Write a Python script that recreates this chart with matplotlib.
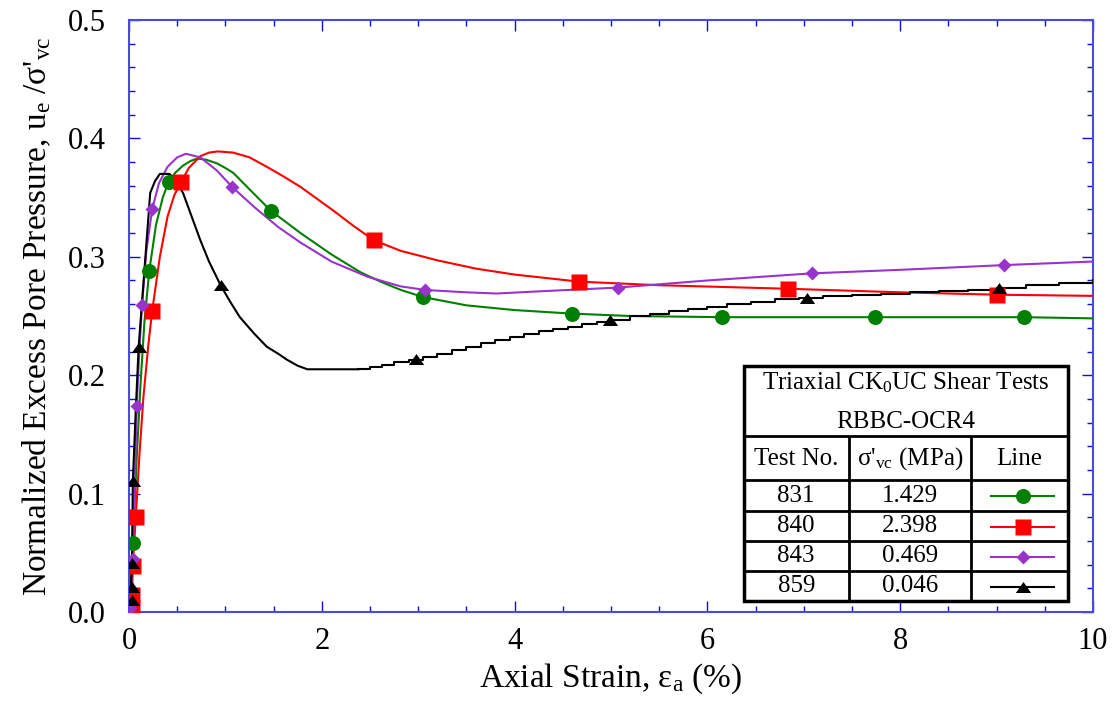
import matplotlib
matplotlib.use("Agg")
import matplotlib.pyplot as plt
from matplotlib.ticker import MultipleLocator, FormatStrFormatter
from matplotlib.patches import Rectangle

plt.rcParams["font.family"] = ["Liberation Serif", "DejaVu Serif"]
plt.rcParams["mathtext.fontset"] = "custom"
plt.rcParams["mathtext.rm"] = "Liberation Serif"
plt.rcParams["mathtext.it"] = "Liberation Serif:italic"
plt.rcParams["mathtext.bf"] = "Liberation Serif:bold"

# ---------------- test 831 (green, circles) ----------------
x831 = [0, 0.02, 0.04, 0.08, 0.12, 0.16, 0.21, 0.28, 0.35, 0.41, 0.48, 0.56, 0.64, 0.71,
        0.8, 0.91, 1.0, 1.08, 1.25, 1.47, 1.78, 2.1, 2.4, 2.61, 2.82, 3.05, 3.5, 4.0, 4.6,
        5.2, 6.15, 7.0, 7.74, 8.5, 9.28, 10.0]
y831 = [0, 0.028, 0.058, 0.13, 0.193, 0.245, 0.288, 0.327, 0.350, 0.363, 0.371, 0.377, 0.381, 0.383,
        0.382, 0.379, 0.375, 0.371, 0.357, 0.339, 0.320, 0.302, 0.287, 0.279, 0.272, 0.266, 0.259, 0.255, 0.252,
        0.250, 0.249, 0.249, 0.249, 0.249, 0.249, 0.248]
mx831 = [0.04, 0.21, 0.41, 1.47, 3.05, 4.6, 6.15, 7.74, 9.28]
my831 = [0.058, 0.288, 0.363, 0.339, 0.266, 0.252, 0.249, 0.249, 0.249]

# ---------------- test 840 (red, squares) ----------------
x840 = [0, 0.03, 0.04, 0.07, 0.11, 0.15, 0.20, 0.24, 0.32, 0.40, 0.47, 0.54, 0.62, 0.74,
        0.83, 0.92, 1.08, 1.25, 1.43, 1.6, 1.78, 1.95, 2.12, 2.33, 2.54, 2.82, 3.2, 3.6, 4.0, 4.67,
        5.5, 6.84, 8.0, 9.0, 10.0]
y840 = [0, 0.010, 0.039, 0.080, 0.135, 0.182, 0.225, 0.254, 0.300, 0.334, 0.352, 0.363, 0.375, 0.385,
        0.388, 0.389, 0.388, 0.384, 0.376, 0.368, 0.359, 0.349, 0.339, 0.326, 0.314, 0.305, 0.297, 0.290, 0.285, 0.279,
        0.276, 0.273, 0.270, 0.268, 0.267]
mx840 = [0.03, 0.03, 0.04, 0.07, 0.24, 0.54, 2.54, 4.67, 6.84, 9.0]
my840 = [0.003, 0.014, 0.039, 0.080, 0.254, 0.363, 0.314, 0.279, 0.273, 0.268]

# ---------------- test 843 (purple, diamonds) ----------------
x843 = [0, 0.01, 0.04, 0.06, 0.08, 0.11, 0.135, 0.18, 0.24, 0.31, 0.40, 0.50, 0.59, 0.74,
        0.91, 1.07, 1.3, 1.55, 1.78, 2.1, 2.48, 2.82, 3.07, 3.5, 3.81, 4.3, 5.07, 6.0,
        7.08, 8.0, 9.08, 10.0]
y843 = [0, 0.003, 0.045, 0.11, 0.174, 0.225, 0.259, 0.305, 0.340, 0.362, 0.376, 0.384, 0.387, 0.384,
        0.373, 0.359, 0.342, 0.325, 0.312, 0.296, 0.283, 0.275, 0.272, 0.270, 0.269, 0.271, 0.274, 0.280,
        0.286, 0.289, 0.293, 0.296]
mx843 = [0.01, 0.04, 0.08, 0.135, 0.24, 1.07, 3.07, 5.07, 7.08, 9.08]
my843 = [0.003, 0.045, 0.174, 0.259, 0.340, 0.359, 0.272, 0.274, 0.286, 0.293]

# ---------------- test 859 (black, triangles) ----------------
x859 = [0, 0.02, 0.03, 0.04, 0.07, 0.10, 0.15, 0.22, 0.27, 0.32, 0.42, 0.47, 0.56, 0.65,
        0.74, 0.83, 0.95, 1.05, 1.15, 1.3, 1.43, 1.55, 1.64, 1.75, 1.85, 2.38]
y859 = [0, 0.020, 0.041, 0.111, 0.170, 0.224, 0.278, 0.354, 0.364, 0.370, 0.370, 0.366, 0.354, 0.334,
        0.314, 0.296, 0.276, 0.262, 0.249, 0.235, 0.224, 0.218, 0.213, 0.208, 0.205, 0.205]
# quantised readings at larger strains (drawn as a staircase)
xs859 = [2.38, 2.5, 2.62, 2.75, 2.9, 3.05, 3.2, 3.35, 3.5, 3.65, 3.8, 3.95, 4.1, 4.25, 4.4,
         4.55, 4.7, 4.85, 5.0, 5.2, 5.4, 5.6, 5.8, 6.0, 6.2, 6.45, 6.7, 6.95, 7.2, 7.5,
         7.8, 8.1, 8.4, 8.7, 9.0, 9.3, 9.65, 10.0]
ys859 = [0.205, 0.207, 0.209, 0.211, 0.213, 0.215, 0.218, 0.221, 0.224, 0.227, 0.230, 0.232, 0.235, 0.237, 0.239,
         0.241, 0.243, 0.245, 0.247, 0.250, 0.252, 0.254, 0.256, 0.258, 0.260, 0.262, 0.264, 0.265, 0.267, 0.268,
         0.269, 0.270, 0.271, 0.272, 0.274, 0.276, 0.278, 0.280]
mx859 = [0.03, 0.03, 0.03, 0.04, 0.10, 0.95, 2.98, 4.99, 7.03, 9.03]
my859 = [0.010, 0.021, 0.041, 0.111, 0.224, 0.276, 0.214, 0.247, 0.265, 0.274]

# legend table contents
tests = ["831", "840", "843", "859"]
stresses = ["1.429", "2.398", "0.469", "0.046"]

c_green = "#008000"
c_red = "#ff0000"
c_purple = "#9933cc"
c_black = "#000000"
tri = [(0, 0.72), (-1, -0.72), (1, -0.72)]

fig = plt.figure(figsize=(11.14, 7.13), dpi=100)
ax = fig.add_axes([129 / 1114, 1 - 612 / 713, (1093 - 129) / 1114, (612 - 20) / 713])

lw = 1.5
ax.plot(x831, y831, color=c_green, lw=lw, zorder=3)
ax.plot(x840, y840, color=c_red, lw=lw, zorder=3)
ax.plot(x843, y843, color=c_purple, lw=lw, zorder=3)
ax.plot(x859, y859, color=c_black, lw=lw, zorder=3)
ax.plot(xs859, ys859, color=c_black, lw=lw, drawstyle="steps-post", zorder=3)

ax.plot(mx831, my831, ls="none", marker="o", ms=10.8, color=c_green, mec="none", zorder=4)
ax.plot(mx840, my840, ls="none", marker="s", ms=11.0, color=c_red, mec="none", zorder=4)
ax.plot(mx843, my843, ls="none", marker="D", ms=7.5, color=c_purple, mec="none", zorder=4)
ax.plot(mx859, my859, ls="none", marker=tri, ms=11.0, color=c_black, mec="none", zorder=5)

ax.set_xlim(0, 10)
ax.set_ylim(0, 0.5)
ax.xaxis.set_major_locator(MultipleLocator(2))
ax.xaxis.set_minor_locator(MultipleLocator(0.5))
ax.yaxis.set_major_locator(MultipleLocator(0.1))
ax.yaxis.set_minor_locator(MultipleLocator(0.02))
ax.xaxis.set_major_formatter(FormatStrFormatter("%g"))
ax.yaxis.set_major_formatter(FormatStrFormatter("%.1f"))

tick_blue = "#1010cc"
for sp in ax.spines.values():
    sp.set_color("#4a4ae0")
    sp.set_linewidth(1.5)
ax.tick_params(which="both", direction="in", top=True, right=True,
               color=tick_blue, labelcolor="black", labelsize=22, width=1.0)
ax.tick_params(which="major", length=8)
ax.tick_params(which="minor", length=4)
ax.tick_params(axis="x", which="major", pad=11)
ax.tick_params(axis="y", which="major", pad=17)

ax.set_xlabel(r"Axial Strain, ε$_{\mathrm{a}}$ (%)", fontsize=24, labelpad=4)
ax.set_ylabel(r"Normalized Excess Pore Pressure, u$_{\mathrm{e}}$ /σ'$_{\mathrm{vc}}$",
              fontsize=24, labelpad=10)


# ---------------- legend table ----------------
def fx(px):
    return (px - 129) / (1093 - 129)


def fy(py):
    return (612 - py) / (612 - 20)


T = ax.transAxes
L, R, Tp, B = 743.5, 1068, 366, 601
ax.add_patch(Rectangle((fx(L), fy(B)), fx(R) - fx(L), fy(Tp) - fy(B), transform=T,
                       facecolor="white", edgecolor="black", lw=2.5, zorder=10))
hlines = [436, 480, 510.5, 541, 571]
for h in hlines:
    ax.plot([fx(L), fx(R)], [fy(h), fy(h)], transform=T, color="black",
            lw=2.0, zorder=11, solid_capstyle="butt")
for v in [849, 971]:
    ax.plot([fx(v), fx(v)], [fy(436), fy(B)], transform=T, color="black",
            lw=2.0, zorder=11, solid_capstyle="butt")

tk = dict(transform=T, ha="center", va="center", fontsize=18, zorder=12)
xm = fx((L + R) / 2)
ax.text(xm, fy(383), r"Triaxial CK$_{\mathrm{0}}$UC Shear Tests", **tk)
ax.text(xm, fy(422), "RBBC-OCR4", **tk)
ax.text(fx((L + 849) / 2), fy(459), "Test No.", **tk)
ax.text(fx((849 + 971) / 2), fy(459), r"σ'$_{\mathrm{vc}}$ (MPa)", **tk)
ax.text(fx((971 + R) / 2), fy(459), "Line", **tk)

row_y = [496, 526.5, 556.5, 586.5]
styles = [(c_green, "o", 10.8), (c_red, "s", 11.0), (c_purple, "D", 7.5), (c_black, tri, 11.0)]
for ry, t, s, (col, mk, ms) in zip(row_y, tests, stresses, styles):
    ax.text(fx((L + 849) / 2), fy(ry), t, **tk)
    ax.text(fx((849 + 971) / 2), fy(ry), s, **tk)
    ax.plot([fx(991), fx(1054)], [fy(ry), fy(ry)], transform=T, color=col, lw=lw, zorder=12)
    ax.plot([fx(1022.5)], [fy(ry)], transform=T, marker=mk, ms=ms, color=col,
            mec="none", ls="none", zorder=13)

fig.savefig("out.png", dpi=100)
